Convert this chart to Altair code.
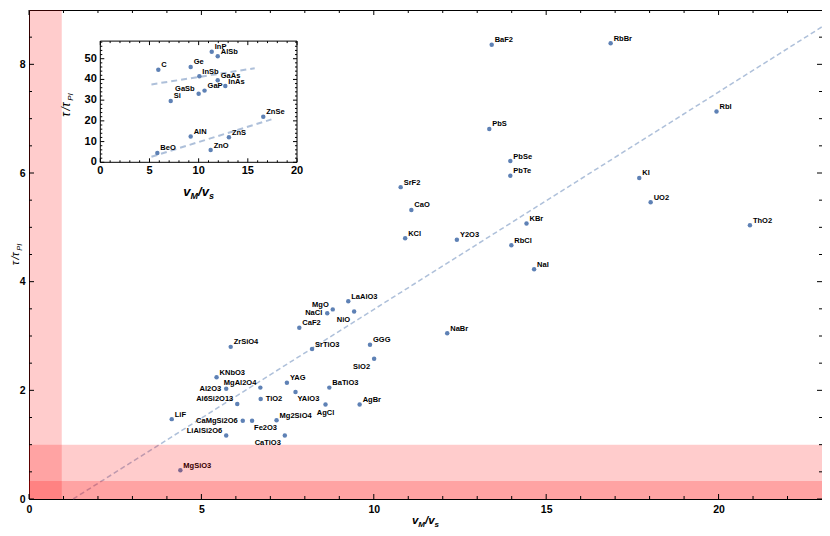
import altair as alt
import pandas as pd

# ---------------- data ----------------
names = ["BaF2", "RbBr", "RbI", "PbS", "PbSe", "PbTe", "SrF2", "KI", "UO2", "CaO",
         "KBr", "ThO2", "KCl", "Y2O3", "RbCl", "NaI", "NaBr",
         "LaAlO3", "MgO", "NaCl", "NiO", "CaF2", "ZrSiO4", "SrTiO3", "GGG", "SiO2",
         "KNbO3", "Al2O3", "MgAl2O4", "YAG", "BaTiO3", "YAlO3", "TiO2", "Al6Si2O13",
         "AgCl", "AgBr", "LiF", "CaMgSi2O6", "Fe2O3", "Mg2SiO4", "LiAlSi2O6", "CaTiO3",
         "MgSiO3"]
vm_vs = [13.42, 16.87, 19.94, 13.35, 13.96, 13.96, 10.78, 17.70, 18.03, 11.09,
         14.43, 20.91, 10.91, 12.41, 13.99, 14.65, 12.13,
         9.26, 8.81, 8.65, 9.43, 7.84, 5.85, 8.21, 9.89, 10.01,
         5.44, 5.72, 6.71, 7.48, 8.71, 7.73, 6.72, 6.04,
         8.60, 9.59, 4.14, 6.20, 6.47, 7.18, 5.72, 7.42,
         4.39]
tau = [8.36, 8.39, 7.13, 6.81, 6.22, 5.95, 5.74, 5.91, 5.46, 5.32,
       5.07, 5.04, 4.80, 4.77, 4.67, 4.23, 3.05,
       3.64, 3.49, 3.42, 3.45, 3.15, 2.80, 2.76, 2.84, 2.58,
       2.24, 2.03, 2.05, 2.14, 2.05, 1.97, 1.84, 1.75,
       1.74, 1.74, 1.47, 1.44, 1.44, 1.45, 1.17, 1.17,
       0.53]

fit_x = [1.28, 23.0]
fit_y = [0.0, 8.69]

band_x0 = [0.0, 0.0, 0.0]
band_x1 = [0.95, 23.0, 23.0]
band_y0 = [0.0, 0.0, 0.0]
band_y1 = [9.0, 1.0, 0.33]

x_major = [0, 5, 10, 15, 20]
x_minor = [v for v in range(1, 23) if v % 5]
y_major = [0, 2, 4, 6, 8]
y_minor = [0.5, 1, 1.5, 2.5, 3, 3.5, 4.5, 5, 5.5, 6.5, 7, 7.5, 8.5]

inset_names = ["InP", "AlSb", "C", "Ge", "InSb", "GaAs", "InAs", "GaSb", "GaP", "Si",
               "ZnSe", "AlN", "ZnS", "ZnO", "BeO"]
inset_x = [11.33, 11.94, 5.90, 9.19, 10.07, 11.94, 12.71, 10.00, 10.60, 7.16,
           16.57, 9.19, 13.08, 11.22, 5.80]
inset_y = [53.4, 51.2, 44.7, 46.0, 41.5, 39.6, 36.8, 33.1, 34.6, 29.6,
           22.0, 12.4, 12.1, 5.9, 4.5]

inset_line_group = ["upper", "upper", "lower", "lower"]
inset_line_x = [5.2, 15.7, 5.2, 17.4]
inset_line_y = [37.6, 45.4, 2.7, 20.7]

inset_x_major = [0, 5, 10, 15, 20]
inset_x_minor = [v for v in range(1, 20) if v % 5]
inset_y_major = [0, 10, 20, 30, 40, 50]
inset_y_minor = [v for v in range(2, 59, 2) if v % 10]
INSET_YMAX = 58.5

# ---------------- styling ----------------
BLUE = "#5E81B5"
FONT = "Liberation Sans"
W, H = 793, 489

main_place = {"CaMgSi2O6": "l", "NaCl": "l", "Al2O3": "l",
              "Fe2O3": "br", "YAlO3": "br", "AgCl": "b",
              "LiAlSi2O6": "ul", "MgAl2O4": "ul", "Al6Si2O13": "ul", "MgO": "ul",
              "CaTiO3": "bl", "SiO2": "bl", "NiO": "bl", "TiO2": "r"}
inset_place = {"GaSb": "ul"}
placements = {
    "ur": dict(align="left", baseline="alphabetic", dx=3, dy=-2.5),
    "ul": dict(align="right", baseline="alphabetic", dx=-4, dy=-2.5),
    "l": dict(align="right", baseline="middle", dx=-5, dy=0),
    "r": dict(align="left", baseline="middle", dx=5, dy=0),
    "b": dict(align="center", baseline="top", dx=0, dy=5),
    "br": dict(align="left", baseline="top", dx=2, dy=3.5),
    "bl": dict(align="right", baseline="top", dx=-4, dy=4),
}

main_df = pd.DataFrame({"name": names, "x": vm_vs, "y": tau})
main_df["place"] = [main_place.get(n, "ur") for n in names]
inset_df = pd.DataFrame({"name": inset_names, "x": inset_x, "y": inset_y})
inset_df["place"] = [inset_place.get(n, "ur") for n in inset_names]

XS = alt.Scale(domain=[0, 23], nice=False, zero=False)
YS = alt.Scale(domain=[0, 9], nice=False, zero=False)
AX = alt.Axis(values=x_major, ticks=False, tickSize=0, domain=False, grid=False, title=None,
              labelFont=FONT, labelFontSize=10.5, labelFontWeight="bold", labelColor="#000",
              labelPadding=5, labelFlush=False)
AY = alt.Axis(values=y_major, ticks=False, tickSize=0, domain=False, grid=False, title=None,
              labelFont=FONT, labelFontSize=10.5, labelFontWeight="bold", labelColor="#000",
              labelPadding=4, labelFlush=False)


def MX(f):
    return alt.X(f, type="quantitative", scale=XS, axis=AX)


def MY(f):
    return alt.Y(f, type="quantitative", scale=YS, axis=AY)


IX0, IX1 = 71.3, 268.0
IY0, IY1 = 152.3, 31.1
IXS = alt.Scale(domain=[0, 20], range=[IX0, IX1], nice=False, zero=False)
IYS = alt.Scale(domain=[0, INSET_YMAX], range=[IY0, IY1], nice=False, zero=False)


def IX(f):
    return alt.X(f, type="quantitative", scale=IXS, axis=None)


def IY(f):
    return alt.Y(f, type="quantitative", scale=IYS, axis=None)


one = pd.DataFrame({"a": [0]})

# ---------------- main plot ----------------
layers = []
layers.append(alt.Chart(pd.DataFrame({"x": fit_x, "y": fit_y})).mark_line(
    color=BLUE, opacity=0.5, strokeWidth=1.5, strokeDash=[5, 3]).encode(x=MX("x"), y=MY("y")))
layers.append(alt.Chart(main_df).mark_circle(size=20, color=BLUE, opacity=1).encode(
    x=MX("x"), y=MY("y")))
for p in sorted(set(main_df["place"])):
    layers.append(alt.Chart(main_df).transform_filter(alt.datum.place == p).mark_text(
        font=FONT, fontSize=7.5, fontWeight="bold", color="#000", **placements[p]).encode(
        x=MX("x"), y=MY("y"), text="name:N"))
layers.append(alt.Chart(pd.DataFrame({"x0": band_x0, "x1": band_x1, "y0": band_y0, "y1": band_y1}))
              .mark_rect(color="#ff0000", opacity=0.2)
              .encode(x=MX("x0"), x2=alt.X2("x1"), y=MY("y0"), y2=alt.Y2("y1")))
for vals, L in [(x_major, 5), (x_minor, 3)]:
    d = pd.DataFrame({"v": vals})
    layers.append(alt.Chart(d).mark_rule(color="#000", strokeWidth=1).encode(
        x=MX("v"), y=alt.value(H), y2=alt.value(H - L)))
    layers.append(alt.Chart(d).mark_rule(color="#000", strokeWidth=1).encode(
        x=MX("v"), y=alt.value(0), y2=alt.value(L)))
for vals, L in [(y_major, 5), (y_minor, 3)]:
    d = pd.DataFrame({"v": vals})
    layers.append(alt.Chart(d).mark_rule(color="#000", strokeWidth=1).encode(
        y=MY("v"), x=alt.value(0), x2=alt.value(L)))
    layers.append(alt.Chart(d).mark_rule(color="#000", strokeWidth=1).encode(
        y=MY("v"), x=alt.value(W), x2=alt.value(W - L)))

BI = {"v": 0.556, "M": 0.833, "/": 0.278, "s": 0.556}
GR = {"τ": 0.52, "/": 0.278, "P": 0.667, "I": 0.278}


def tw(t, size, table):
    return sum(table.get(c, 0.556) for c in t) * size


def htitle(parts, cx, base, style, weight, table):
    total = sum(tw(t, s, table) for t, s, _ in parts)
    x = cx - total / 2
    out = []
    for t, s, sh in parts:
        out.append(alt.Chart(one).mark_text(
            text=t, align="left", baseline="alphabetic", font=FONT, fontSize=s,
            fontStyle=style, fontWeight=weight, color="#000").encode(
            x=alt.value(x), y=alt.value(base + sh)))
        x += tw(t, s, table)
    return out


def vtitle(parts, cy, base, style, weight, table):
    total = sum(tw(t, s, table) for t, s, _ in parts)
    y = cy + total / 2
    out = []
    for t, s, sh in parts:
        out.append(alt.Chart(one).mark_text(
            text=t, align="left", baseline="alphabetic", angle=270, font=FONT, fontSize=s,
            fontStyle=style, fontWeight=weight, color="#000").encode(
            x=alt.value(base + sh), y=alt.value(y)))
        y -= tw(t, s, table)
    return out


layers += htitle([("v", 11.5, 0), ("M", 8, 2.5), ("/", 11.5, 0), ("v", 11.5, 0), ("s", 8, 2.5)],
                 W / 2, 514, "italic", "bold", BI)
layers += vtitle([("τ", 11, 0), ("/", 11, 0), ("τ", 11, 0), ("PI", 7.5, 2.5)],
                 H / 2, -10, "italic", "normal", GR)
main_layer = alt.layer(*layers)

# ---------------- inset ----------------
il = []
il.append(alt.Chart(pd.DataFrame({"x0": [0], "x1": [20], "y0": [0], "y1": [INSET_YMAX]}))
          .mark_rect(fill="white", stroke="#000", strokeWidth=1)
          .encode(x=IX("x0"), x2=alt.X2("x1"), y=IY("y0"), y2=alt.Y2("y1")))
il.append(alt.Chart(pd.DataFrame({"g": inset_line_group, "x": inset_line_x, "y": inset_line_y}))
          .mark_line(color=BLUE, opacity=0.5, strokeWidth=2, strokeDash=[6, 4])
          .encode(x=IX("x"), y=IY("y"), detail="g:N"))
il.append(alt.Chart(inset_df).mark_circle(size=20, color=BLUE, opacity=1).encode(
    x=IX("x"), y=IY("y")))
for p in sorted(set(inset_df["place"])):
    il.append(alt.Chart(inset_df).transform_filter(alt.datum.place == p).mark_text(
        font=FONT, fontSize=7.5, fontWeight="bold", color="#000", **placements[p]).encode(
        x=IX("x"), y=IY("y"), text="name:N"))
for vals, L in [(inset_x_major, 4), (inset_x_minor, 2)]:
    d = pd.DataFrame({"v": vals})
    il.append(alt.Chart(d).mark_rule(color="#000", strokeWidth=1).encode(
        x=IX("v"), y=alt.value(IY0), y2=alt.value(IY0 - L)))
    il.append(alt.Chart(d).mark_rule(color="#000", strokeWidth=1).encode(
        x=IX("v"), y=alt.value(IY1), y2=alt.value(IY1 + L)))
for vals, L in [(inset_y_major, 4), (inset_y_minor, 2)]:
    d = pd.DataFrame({"v": vals})
    il.append(alt.Chart(d).mark_rule(color="#000", strokeWidth=1).encode(
        y=IY("v"), x=alt.value(IX0), x2=alt.value(IX0 + L)))
    il.append(alt.Chart(d).mark_rule(color="#000", strokeWidth=1).encode(
        y=IY("v"), x=alt.value(IX1), x2=alt.value(IX1 - L)))
il.append(alt.Chart(pd.DataFrame({"v": inset_x_major})).mark_text(
    font=FONT, fontSize=11, fontWeight="bold", color="#000", align="center", baseline="top").encode(
    x=IX("v"), y=alt.value(IY0 + 3), text=alt.Text("v:Q", format="d")))
il.append(alt.Chart(pd.DataFrame({"v": inset_y_major})).mark_text(
    font=FONT, fontSize=11, fontWeight="bold", color="#000", align="right", baseline="middle").encode(
    y=IY("v"), x=alt.value(IX0 - 3.5), text=alt.Text("v:Q", format="d")))
il += htitle([("v", 13, 0), ("M", 9, 3), ("/", 13, 0), ("v", 13, 0), ("s", 9, 3)],
             (IX0 + IX1) / 2, 186, "italic", "bold", BI)
il += vtitle([("τ", 12, 0), ("/", 12, 0), ("τ", 12, 0), ("PI", 8, 2.5)],
             95, 41, "italic", "normal", GR)
inset_layer = alt.layer(*il)

chart = (alt.layer(main_layer, inset_layer)
         .resolve_scale(x="independent", y="independent")
         .properties(width=W, height=H, autosize=alt.AutoSizeParams(type="none"),
                     padding={"left": 21, "top": 2, "right": 0, "bottom": 29},
                     background="white")
         .configure_view(stroke="#000", strokeWidth=1))

chart.save("out.html", embed_options={"renderer": "svg", "actions": False})
